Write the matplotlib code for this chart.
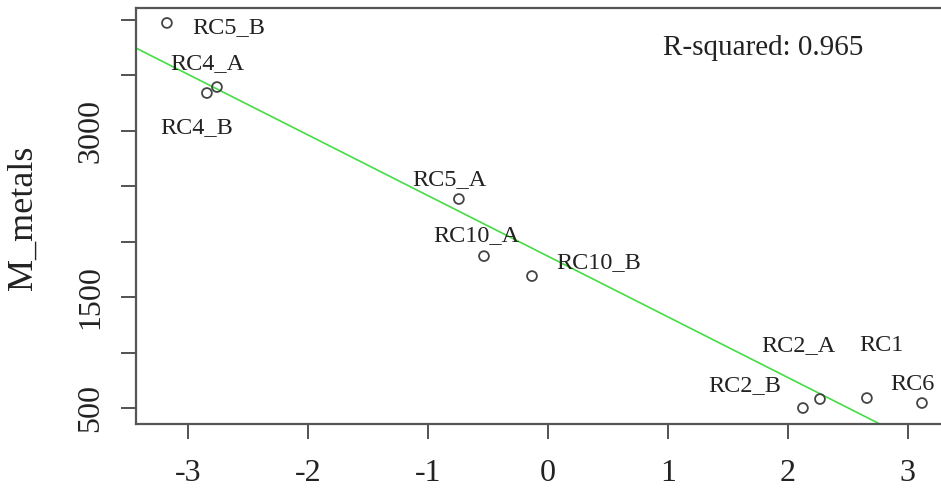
import numpy as np
import matplotlib.pyplot as plt

# site names and coordinates (PC score vs M_metals)
sites = ["RC5_B", "RC4_A", "RC4_B", "RC5_A", "RC10_A", "RC10_B",
         "RC2_B", "RC2_A", "RC1", "RC6"]
pc_score = [-3.175, -2.758, -2.842, -0.742, -0.533, -0.133,
            2.125, 2.267, 2.658, 3.117]
m_metals = [3973, 3395, 3341, 2385, 1870, 1690, 500, 581, 590, 545]

# label anchor positions (data units)
label_x = [-2.66, -2.84, -2.93, -0.82, -0.60, 0.42, 1.64, 2.09, 2.78, 3.04]
label_y = [3928, 3603, 3034, 2565, 2060, 1816, 706, 1067, 1067, 715]

# fitted line
fit_intercept = 1869
fit_slope = -547
r_squared = 0.965

y_ticks = [500, 1000, 1500, 2000, 2500, 3000, 3500, 4000]
y_ticklabels = ["500", "", "1500", "", "", "3000", "", ""]
x_ticks = [-3, -2, -1, 0, 1, 2, 3]

plt.rcParams["font.family"] = ["Liberation Serif", "DejaVu Serif"]

fig = plt.figure(figsize=(9.41, 4.93), dpi=100)
ax = fig.add_axes([0.1445, 0.14, 0.89, 0.8438])

xmin, xmax = -3.433, -3.433 + 0.89 * 941 / 120
ax.set_xlim(xmin, xmax)
ax.set_ylim(356, 4108)

xx = np.array([xmin, xmax])
ax.plot(xx, fit_intercept + fit_slope * xx, color="#44dd44", lw=1.2, zorder=2)

ax.scatter(pc_score, m_metals, s=50, facecolors="none", edgecolors="#444444",
           linewidths=1.3, zorder=3)

for name, lx, ly in zip(sites, label_x, label_y):
    ax.text(lx, ly, name, fontsize=17.5, ha="center", va="center", color="#222222")

ax.text(1.79, 3747, f"R-squared: {r_squared}", fontsize=21, ha="center",
        va="center", color="#222222")

ax.set_xticks(x_ticks)
ax.set_xticklabels([str(v) for v in x_ticks])
ax.set_yticks(y_ticks)
ax.set_yticklabels(y_ticklabels, rotation=90, va="center")
ax.tick_params(axis="both", length=11, width=1.3, color="#444444",
               labelsize=23, labelcolor="#222222")
ax.tick_params(axis="x", pad=14)
ax.tick_params(axis="y", pad=11)

for s in ["left", "bottom", "top", "right"]:
    ax.spines[s].set_color("#555555")
    ax.spines[s].set_linewidth(1.6)

ax.set_ylabel("M_metals", fontsize=26, color="#222222")
ax.yaxis.set_label_coords(-0.115, 0.495)

fig.savefig("out.png", dpi=100)
